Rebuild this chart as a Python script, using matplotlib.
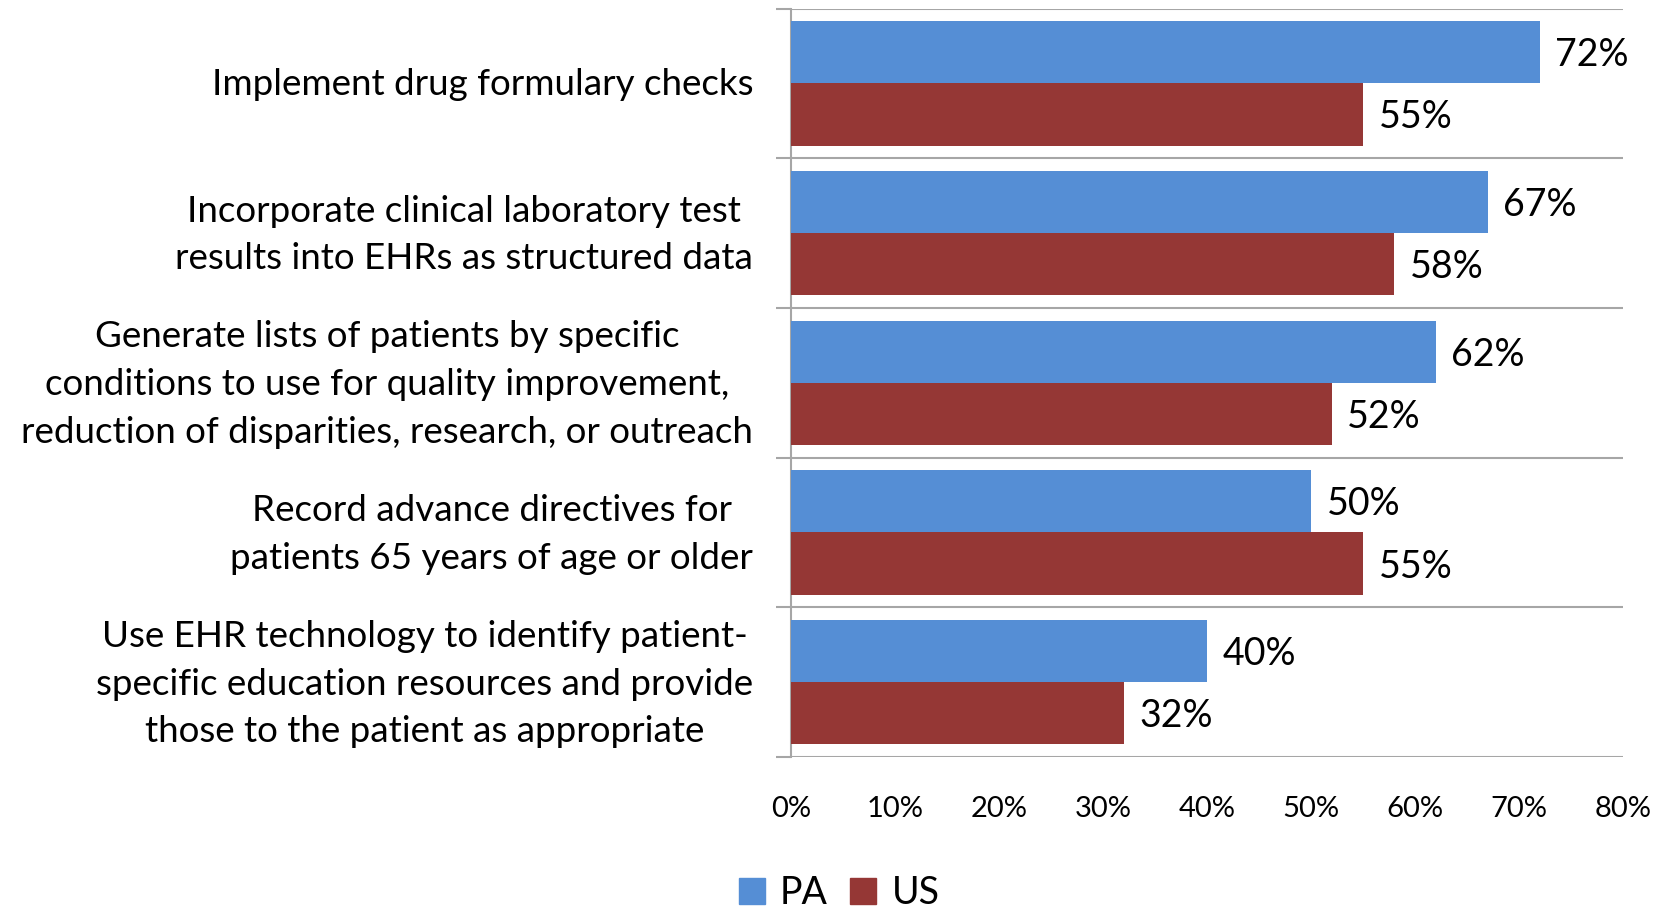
import matplotlib.pyplot as plt
import numpy as np
from matplotlib.ticker import MultipleLocator, FuncFormatter, FixedLocator
from matplotlib.patches import Patch
from matplotlib.transforms import ScaledTranslation

plt.rcParams['font.family'] = ['Lato', 'DejaVu Sans']

categories = [
    'Implement drug formulary checks',
    'Incorporate clinical laboratory test\nresults into EHRs as structured data',
    'Generate lists of patients by specific\nconditions to use for quality improvement,\nreduction of disparities, research, or outreach',
    'Record advance directives for\npatients 65 years of age or older',
    'Use EHR technology to identify patient-\nspecific education resources and provide\nthose to the patient as appropriate',
]
pa_values = [72, 67, 62, 50, 40]
us_values = [55, 58, 52, 55, 32]
series_names = ['PA', 'US']

blue = '#558ED5'
red = '#953735'
grid_color = '#A6A6A6'

fig = plt.figure(figsize=(16.65, 9.08), dpi=100)
ax = fig.add_axes([0.475, 0.1663, 0.4998, 0.8243])

y = np.arange(len(categories))
h = 0.415
ax.barh(y - h / 2, pa_values, height=h, color=blue, zorder=3)
ax.barh(y + h / 2, us_values, height=h, color=red, zorder=3)

# value labels next to each bar
for yi, v in zip(y, pa_values):
    ax.text(v + 1.5, yi - h / 2 + 0.02, f'{v}%', va='center', ha='left', fontsize=27)
for yi, v in zip(y, us_values):
    ax.text(v + 1.5, yi + h / 2 + 0.02, f'{v}%', va='center', ha='left', fontsize=27)

ax.set_xlim(0, 80)
ax.set_ylim(len(categories) - 0.5, -0.5)
ax.xaxis.set_major_locator(MultipleLocator(10))
ax.xaxis.set_major_formatter(FuncFormatter(lambda v, p: f'{v:.0f}%'))
ax.tick_params(axis='x', length=0, pad=28, labelsize=21)

ax.set_yticks(y)
ax.set_yticklabels(categories, fontsize=26.5, ha='right', multialignment='center', linespacing=1.55)
ax.tick_params(axis='y', which='major', length=0, pad=27)
# nudge the labels up a little so they sit centred on each group
for lab in ax.get_yticklabels():
    dy = 0.085 if '\n' in lab.get_text() else 0.02
    lab.set_transform(lab.get_transform() + ScaledTranslation(0, dy, fig.dpi_scale_trans))
ax.yaxis.set_minor_locator(FixedLocator(np.arange(-0.5, len(categories), 1)))
ax.tick_params(axis='y', which='minor', length=11, width=1.5, color=grid_color)
ax.grid(axis='y', which='minor', color=grid_color, linewidth=1.5, zorder=0)
ax.grid(axis='x', visible=False)

for s in ['top', 'right', 'bottom']:
    ax.spines[s].set_visible(False)
ax.spines['left'].set_color(grid_color)
ax.spines['left'].set_linewidth(1.5)

handles = [Patch(color=blue), Patch(color=red)]
fig.legend(handles, series_names, loc='center', bbox_to_anchor=(839 / 1665, 1 - 893 / 908),
           ncol=2, frameon=False, fontsize=27, handlelength=0.7, handleheight=0.7,
           handletextpad=0.4, columnspacing=0.6)

fig.savefig('out.png', dpi=100)
